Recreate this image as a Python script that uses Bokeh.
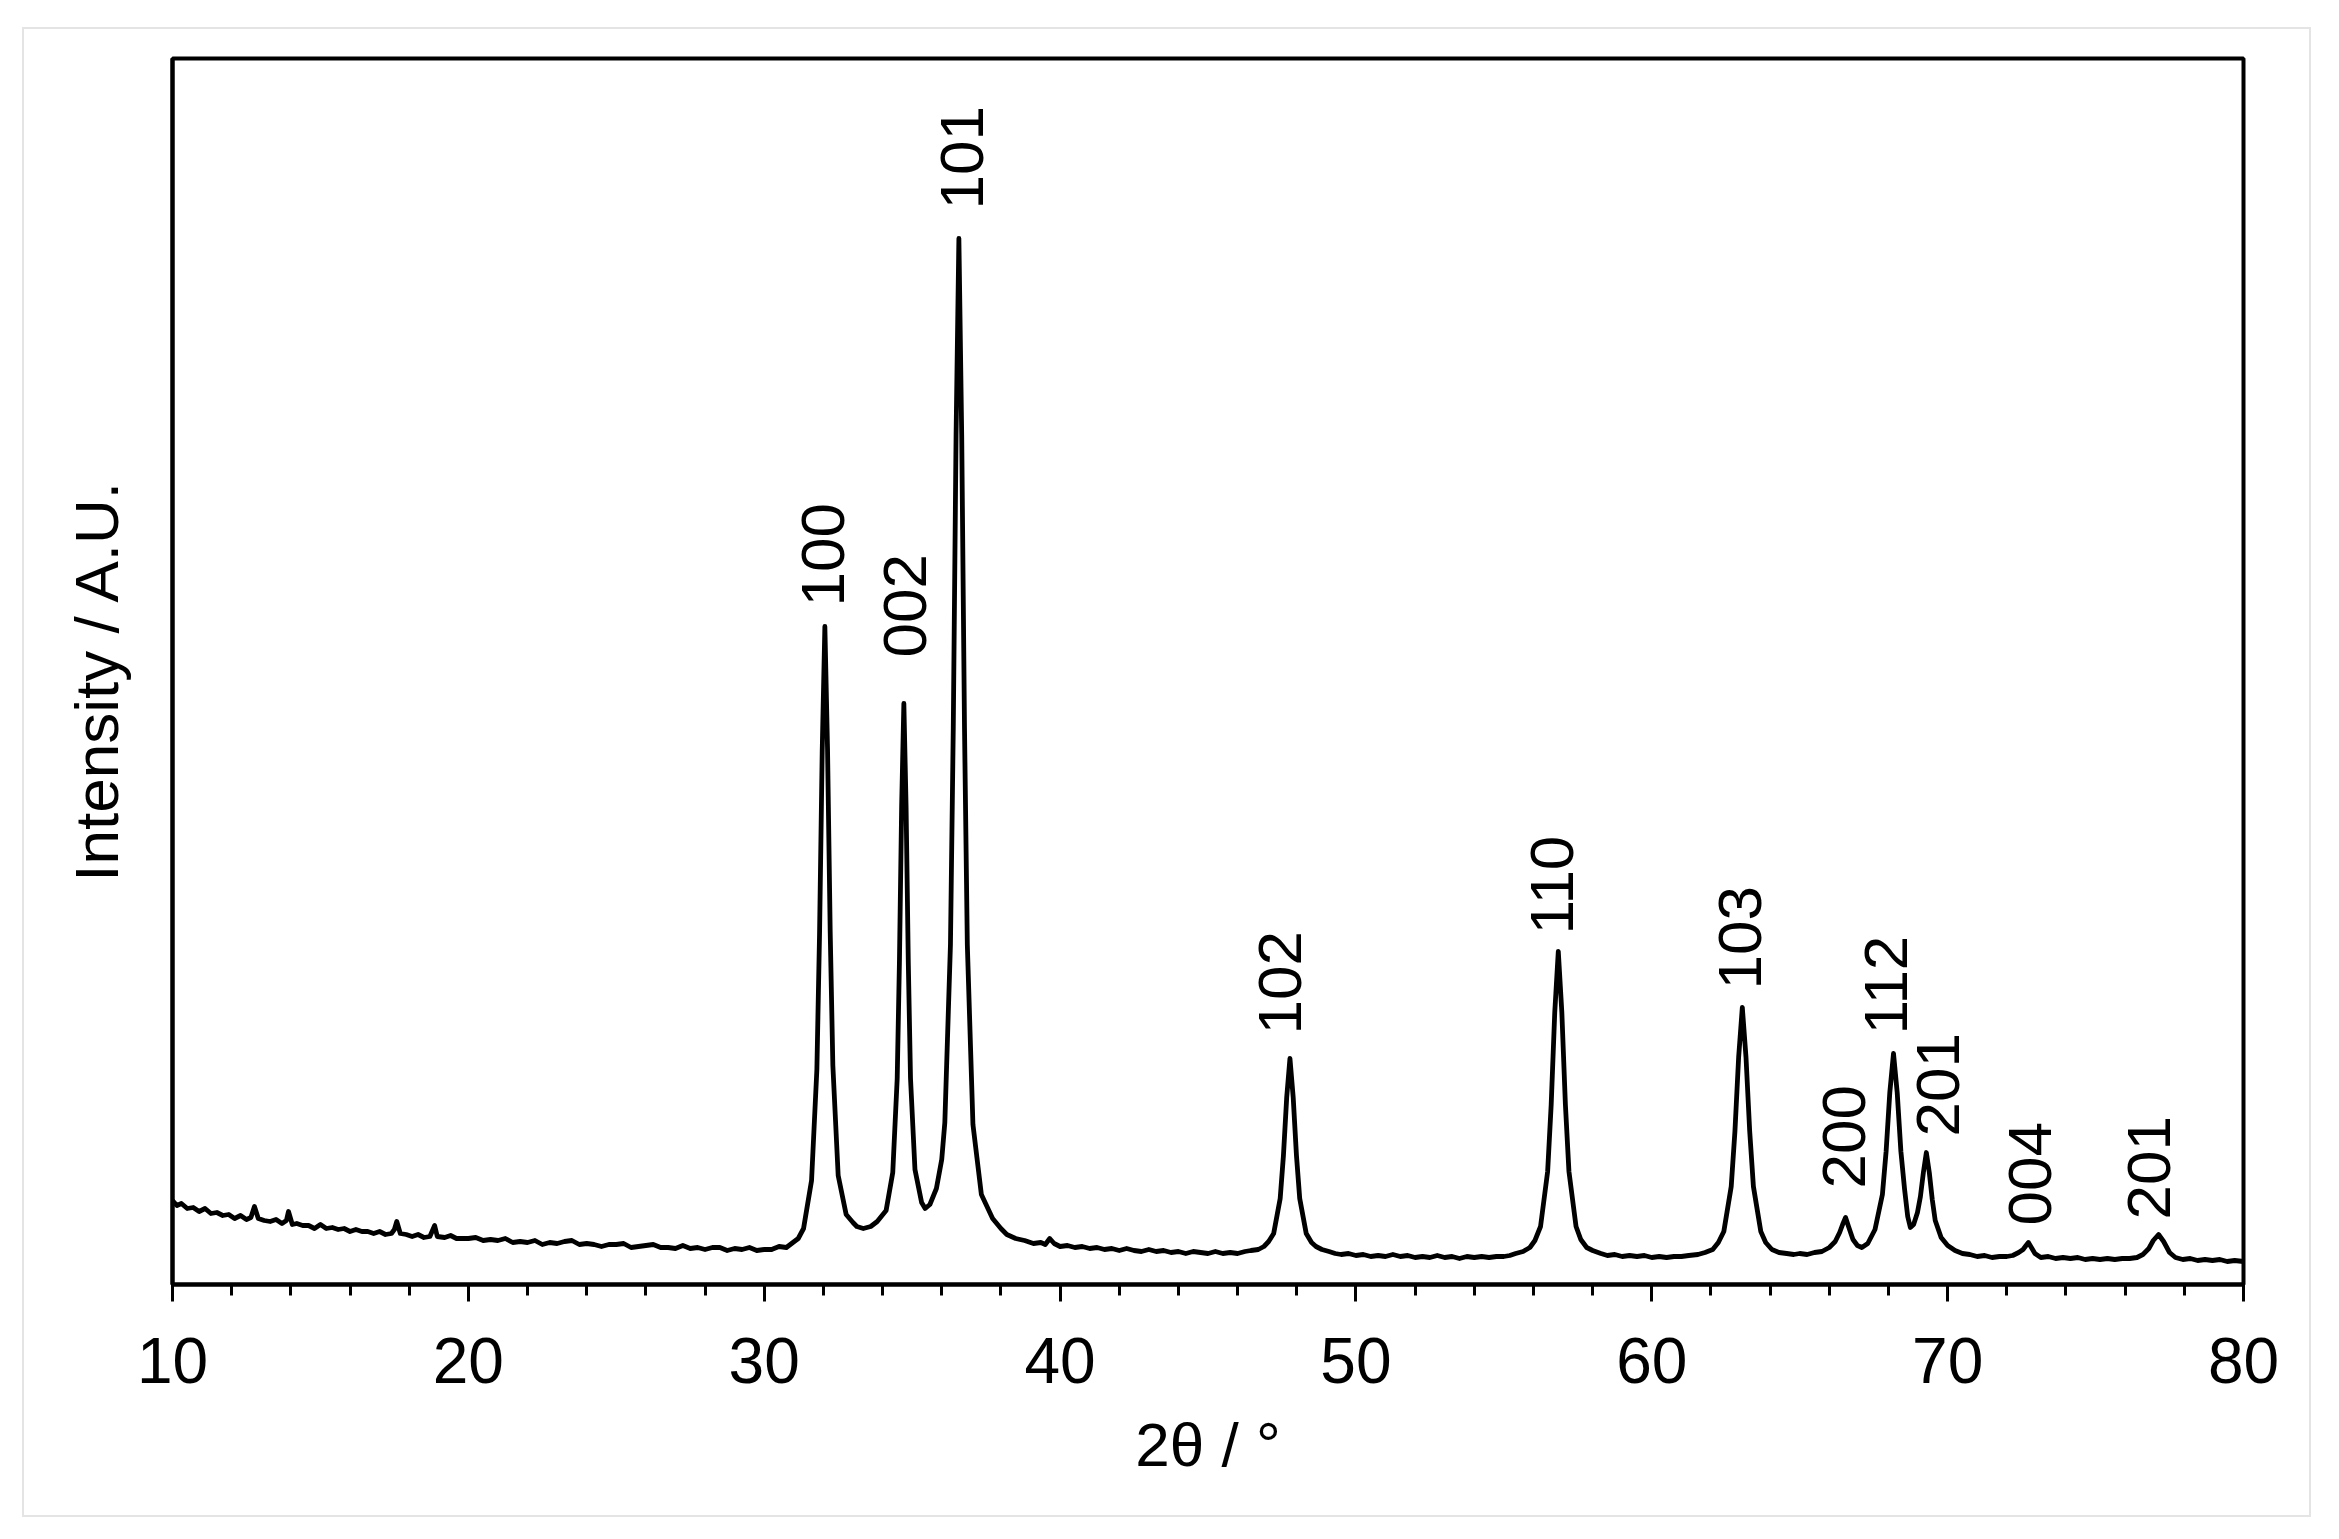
from math import pi
from bokeh.plotting import figure
from bokeh.models import FixedTicker, Range1d
from bokeh.core.properties import value
from bokeh.embed import file_html
from bokeh.resources import INLINE

# ---- XRD trace (2theta in degrees, intensity in arbitrary units) ----
x1 = [10.0, 10.15, 10.3, 10.5, 10.7, 10.9, 11.1, 11.3, 11.5, 11.7, 11.9, 12.1, 12.3, 12.5, 12.65, 12.77, 12.9,
      13.1, 13.3, 13.5, 13.7, 13.85, 13.92, 14.05, 14.2, 14.4, 14.6, 14.8, 15.0, 15.2, 15.4, 15.6, 15.8, 16.0,
      16.2, 16.4, 16.6, 16.8, 17.0, 17.2, 17.4, 17.5, 17.58, 17.7, 17.9, 18.1, 18.3, 18.5, 18.7, 18.86, 18.95,
      19.2, 19.4, 19.6, 19.8]
y1 = [84, 79, 81, 76, 77, 73, 76, 71, 72, 69, 70, 66, 69, 65, 67, 78, 66,
      64, 63, 65, 61, 64, 73, 60, 61, 59, 59, 56, 60, 56, 57, 55, 56, 53,
      55, 53, 53, 51, 53, 50, 51, 55, 63, 51, 50, 48, 50, 47, 48, 59, 48,
      47, 49, 46, 46]

x2 = [20.0, 20.25, 20.5, 20.75, 21.0, 21.25, 21.5, 21.75, 22.0, 22.25, 22.5, 22.75, 23.0, 23.25, 23.5, 23.75,
      24.0, 24.25, 24.5, 24.75, 25.0, 25.25, 25.5, 25.75, 26.0, 26.25, 26.5, 26.75, 27.0, 27.25, 27.5, 27.75,
      28.0, 28.25, 28.5, 28.75, 29.0, 29.25, 29.5, 29.75, 30.0, 30.25, 30.5, 30.75]
y2 = [46, 47, 44, 45, 44, 46, 42, 43, 42, 44, 40, 42, 41, 43, 44, 40,
      41, 40, 38, 40, 40, 41, 37, 38, 39, 40, 37, 37, 36, 39, 36, 37,
      35, 37, 37, 34, 36, 35, 37, 34, 35, 35, 38, 37]

x3 = [30.97, 31.15, 31.33, 31.6, 31.78, 31.87, 31.96, 32.05, 32.14, 32.23, 32.32, 32.5, 32.77, 33.0, 33.13,
      33.35, 33.6, 33.82, 34.12, 34.345, 34.495, 34.57, 34.645, 34.72, 34.795, 34.87, 34.945, 35.095, 35.32,
      35.44, 35.6, 35.82, 36.0, 36.105, 36.295, 36.39, 36.485, 36.58, 36.675, 36.77, 36.865, 37.055, 37.34,
      37.72, 38.0, 38.2, 38.5, 38.8, 39.1, 39.35, 39.5, 39.65, 39.8]
y3 = [42, 46, 56, 104, 215, 350, 533, 658, 536, 353, 219, 109, 70, 62, 58,
      56, 58, 63, 74, 112, 206, 322, 478, 581, 478, 322, 206, 115, 82,
      76, 80, 96, 125, 162, 340, 556, 850, 1046, 850, 556, 340, 160, 90,
      66, 56, 50, 46, 44, 41, 42, 40, 46, 41]

x4 = [40.0, 40.25, 40.5, 40.75, 41.0, 41.25, 41.5, 41.75, 42.0, 42.25, 42.5, 42.75, 43.0, 43.25, 43.5, 43.75,
      44.0, 44.25, 44.5, 44.75, 45.0, 45.25, 45.5, 45.75, 46.0, 46.25, 46.45, 46.7, 46.89, 47.05, 47.22, 47.44,
      47.55, 47.66, 47.77, 47.88, 47.99, 48.1, 48.32, 48.5, 48.65, 48.85, 49.09, 49.3, 49.5, 49.75]
y4 = [38, 39, 37, 38, 36, 37, 35, 36, 34, 36, 34, 33, 35, 33, 34, 32,
      33, 31, 33, 32, 31, 33, 31, 32, 31, 33, 34, 35, 38, 43, 51, 86,
      129, 187, 226, 187, 129, 86, 51, 42, 38, 35, 33, 31, 30, 31]

x5 = [50.0, 50.25, 50.5, 50.75, 51.0, 51.25, 51.5, 51.75, 52.0, 52.25, 52.5, 52.75, 53.0, 53.25, 53.5, 53.75,
      54.0, 54.25, 54.5, 54.75, 55.0, 55.2, 55.4, 55.65, 55.88, 56.05, 56.24, 56.48, 56.6, 56.72, 56.84, 56.96,
      57.08, 57.2, 57.44, 57.6, 57.8, 58.0, 58.28, 58.5, 58.75, 59.0, 59.25, 59.5, 59.75, 60.0, 60.25, 60.5,
      60.75, 61.0, 61.25, 61.56, 61.8]
y5 = [29, 30, 28, 29, 28, 30, 28, 29, 27, 28, 27, 29, 27, 28, 26, 28,
      27, 28, 27, 28, 28, 29, 31, 33, 37, 44, 58, 113, 180, 272, 333, 272,
      180, 113, 58, 45, 37, 34, 31, 29, 30, 28, 29, 28, 29, 27, 28, 27,
      28, 28, 29, 30, 32]

x6 = [62.06, 62.25, 62.435, 62.685, 62.81, 62.935, 63.06, 63.185, 63.31, 63.435, 63.685, 63.85, 64.06, 64.3,
      64.56, 64.8, 65.0, 65.25, 65.5, 65.75, 66.0, 66.2, 66.35, 66.45, 66.55, 66.65, 66.8, 66.95, 67.1, 67.3,
      67.545, 67.795, 67.92, 68.045, 68.17, 68.295, 68.42, 68.545, 68.65, 68.74, 68.85, 68.98, 69.08, 69.18,
      69.28, 69.38, 69.48, 69.58, 69.78, 70.0, 70.25, 70.5, 70.75]
y6 = [35, 42, 53, 98, 153, 227, 277, 227, 153, 98, 53, 42, 35, 32,
      31, 30, 31, 30, 32, 33, 37, 43, 52, 60, 67, 58, 45, 39, 37, 41,
      55, 90, 133, 192, 231, 192, 133, 95, 68, 57, 60, 72, 88, 112,
      132, 112, 85, 64, 47, 39, 34, 31, 30]

x7 = [71.0, 71.25, 71.5, 71.75, 72.0, 72.2, 72.4, 72.55, 72.65, 72.73, 72.83, 72.95, 73.15, 73.4, 73.65, 73.9,
      74.15, 74.4, 74.65, 74.9, 75.15, 75.4, 75.65, 75.9, 76.15, 76.4, 76.6, 76.8, 76.95, 77.13, 77.3, 77.5,
      77.7, 77.95, 78.2, 78.45, 78.7, 78.95, 79.2, 79.45, 79.7, 80.0]
y7 = [28, 29, 27, 28, 28, 29, 32, 35, 39, 42, 37, 31, 27, 28, 26, 27,
      26, 27, 25, 26, 25, 26, 25, 26, 26, 27, 30, 36, 44, 50, 43, 32,
      27, 25, 26, 24, 25, 24, 25, 23, 24, 23]

# ---- peak labels (Miller indices) ----
hkl = ["100", "002", "101", "102", "110", "103", "200", "112", "201", "004", "201"]
label_x = [32.0, 34.76, 36.68, 47.44, 56.63, 62.99, 66.48, 67.90, 69.69, 72.80, 76.82]
label_y = [678, 627, 1075, 250, 350, 295, 96, 250, 148, 59, 65]

# ---- axis ticks ----
x_major = [10, 20, 30, 40, 50, 60, 70, 80]
x_minor = list(range(10, 81, 2))

two_theta = x1 + x2 + x3 + x4 + x5 + x6 + x7
intensity = y1 + y2 + y3 + y4 + y5 + y6 + y7
if len(two_theta) != len(intensity):
    raise ValueError("length mismatch %d %d" % (len(two_theta), len(intensity)))

FONT = "Liberation Sans"

p = figure(frame_width=2071, frame_height=1226,
           x_range=Range1d(10, 80), y_range=Range1d(0, 1226),
           output_backend="svg", toolbar_location=None,
           min_border_left=148, min_border_right=66,
           min_border_top=29, min_border_bottom=231)
p.margin = (27, 0, 0, 22)
p.styles = {"border": "2px solid #e4e4e4"}
p.background_fill_color = "white"
p.border_fill_color = "white"
p.xgrid.visible = False
p.ygrid.visible = False
p.outline_line_color = "black"
p.outline_line_width = 4

p.line(two_theta, intensity, line_color="black", line_width=4.8, line_join="round")
p.text(x=label_x, y=label_y, text=hkl, angle=pi / 2,
       text_font=value(FONT), text_font_size="62px",
       text_align="left", text_baseline="middle", text_color="black")

xa = p.xaxis[0]
xa.ticker = FixedTicker(ticks=x_major, minor_ticks=x_minor)
xa.axis_line_width = 4
xa.axis_line_color = "black"
xa.major_tick_line_width = 3
xa.major_tick_out = 17
xa.major_tick_in = 0
xa.minor_tick_line_width = 3
xa.minor_tick_out = 11
xa.minor_tick_in = 0
xa.major_label_text_font = FONT
xa.major_label_text_font_size = "64px"
xa.major_label_text_color = "black"
xa.major_label_standoff = 36
xa.axis_label = "2θ / °"
xa.axis_label_text_font = FONT
xa.axis_label_text_font_size = "62px"
xa.axis_label_text_font_style = "normal"
xa.axis_label_text_color = "black"
xa.axis_label_standoff = 24

ya = p.yaxis[0]
ya.ticker = FixedTicker(ticks=[])
ya.major_tick_line_color = None
ya.minor_tick_line_color = None
ya.major_label_text_font_size = "0px"
ya.axis_line_width = 4
ya.axis_line_color = "black"
ya.axis_label = "Intensity / A.U.\u00a0"
ya.axis_label_text_font = FONT
ya.axis_label_text_font_size = "62px"
ya.axis_label_text_font_style = "normal"
ya.axis_label_text_color = "black"
ya.axis_label_standoff = 42

open("out.html", "w").write(file_html(p, INLINE))
